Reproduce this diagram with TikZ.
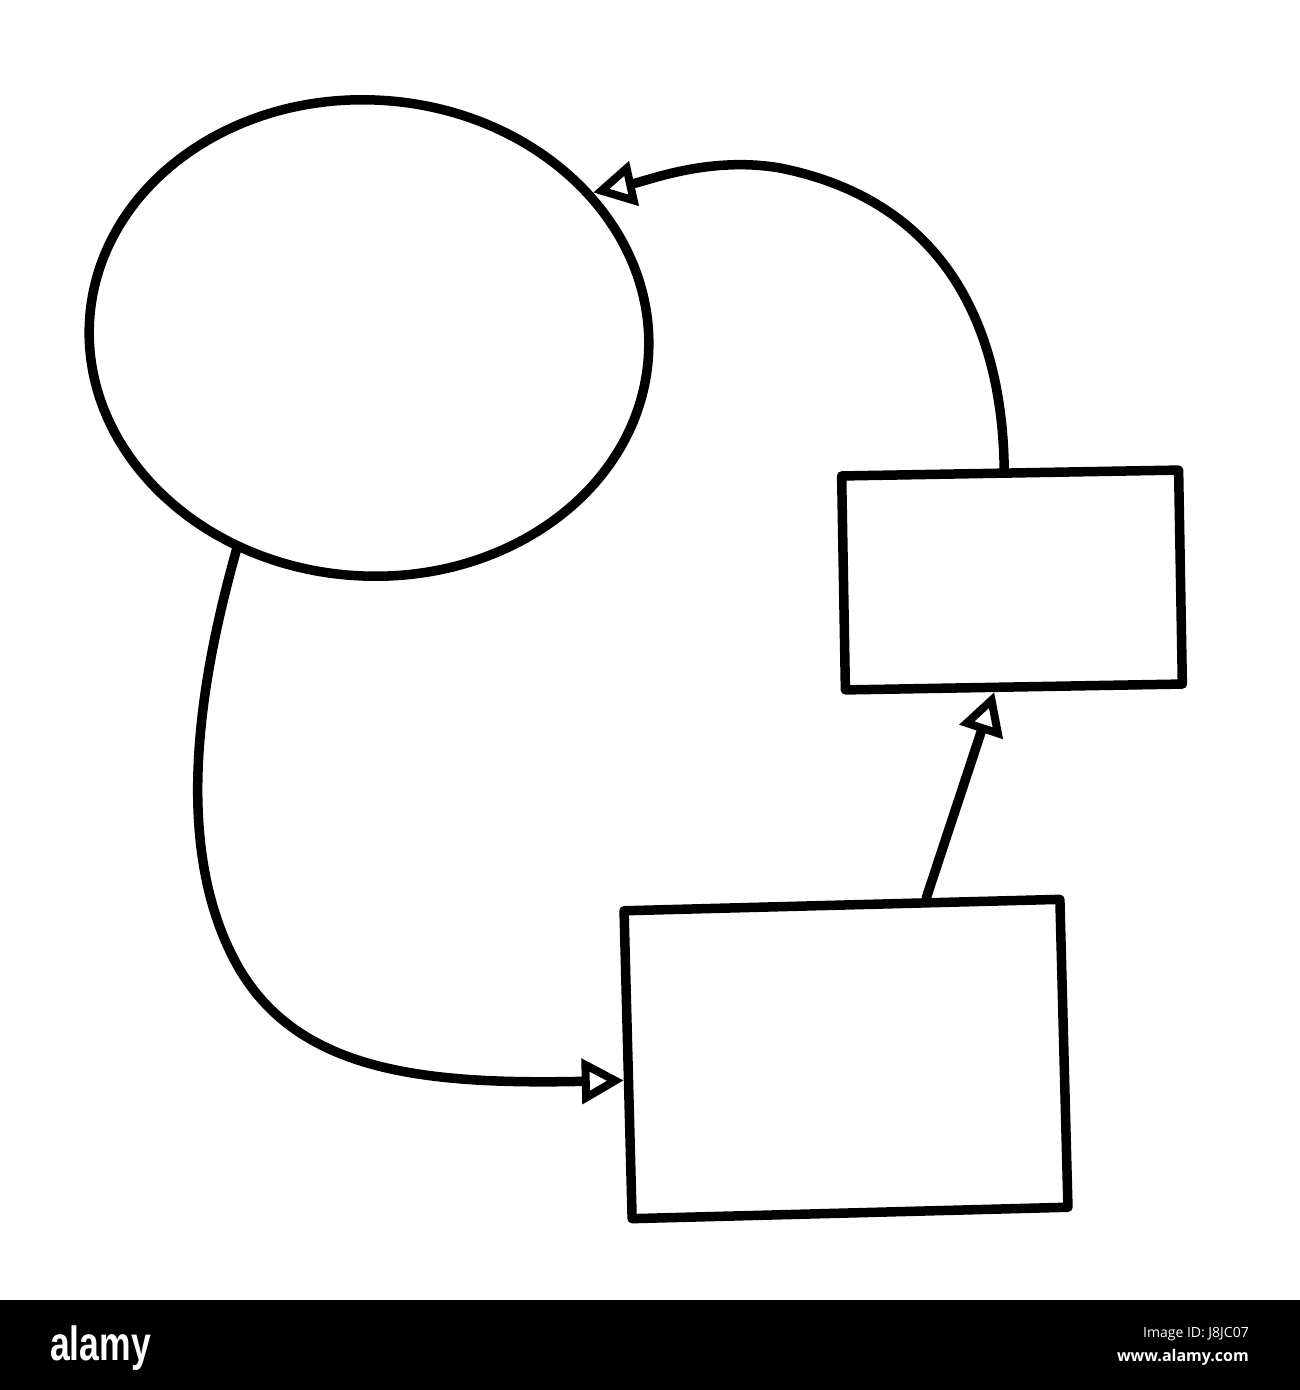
\documentclass[tikz,border=0pt]{standalone}
\usepackage{fontspec}
\setsansfont{Open Sans}
\newfontfamily\brandfont{Liberation Sans}
\usetikzlibrary{shapes.geometric, arrows.meta}

\begin{document}
\begin{tikzpicture}[x=1pt,y=-1pt]
        % Setup the styles for the shapes and lines
        \tikzset{sketch line/.style={line width=9.5pt,
                                     line cap=round,
                                     line join=round},
                 box style/.style={sketch line, draw, rectangle,
                                   inner sep=0pt},
                 blob style/.style={sketch line, draw, ellipse,
                                    inner sep=0pt},
                 flow/.style={sketch line,
                              -{Triangle[open, length=42pt, width=44pt, line width=8pt]}},
                 mark text/.style={text=white, inner sep=0pt}}
        \useasboundingbox (0,0) rectangle (1300,1390);

        % Draw the shapes
        \node[blob style, minimum width=560pt, minimum height=476pt, rotate=-4]
              at (369,338) (blob) {};
        \node[box style, minimum width=337pt, minimum height=214pt, rotate=1]
              at (1012,580) (upper) {};
        \node[box style, minimum width=436pt, minimum height=308pt, rotate=1.5]
              at (846,1059) (lower) {};

        % Connect the shapes with arrows
        \draw[flow] (blob.242) .. controls (200,680) and (170,850) .. (240,970)
                               .. controls (300,1070) and (420,1085) .. (lower.184);
        \draw[flow] (lower.62) -- (upper.260);
        \draw[flow] (upper.93) .. controls (1002,320) and (940,200) .. (780,168)
                               .. controls (710,156) and (650,180) .. (blob.37);

        % Draw the banner
        \fill[black] (0,1300) rectangle (1300,1390);
        \node[mark text, anchor=base west, xscale=0.74,
              font=\brandfont\bfseries\fontsize{48}{48}\selectfont]
              at (50,1360) (brand) {alamy};
        \node[mark text, anchor=base east,
              font=\sffamily\fontsize{14}{14}\selectfont]
              at (1249,1337) (imageid) {Image ID: J8JC07};
        \node[mark text, anchor=base east,
              font=\sffamily\bfseries\fontsize{16}{16}\selectfont]
              at (1249,1361) (site) {www.alamy.com};
\end{tikzpicture}
\end{document}
